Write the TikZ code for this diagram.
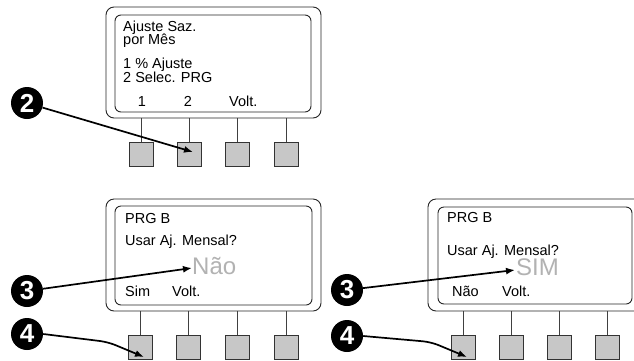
\documentclass[tikz,border=0pt]{standalone}
\usepackage{fontspec}
\setmainfont{Liberation Sans}
\usetikzlibrary{arrows.meta}

\tikzset{
  panel/.style={draw=black!85,line width=0.9pt,rounded corners=8pt,inner sep=0pt},
  screen/.style={draw=black!85,line width=0.9pt,rounded corners=6pt,inner sep=0pt},
  btn/.style={draw=black!80,fill=black!22,line width=0.9pt,minimum width=24pt,minimum height=24pt,inner sep=0pt},
  stem/.style={draw=black!75,line width=0.9pt},
  lcdtext/.style={inner sep=0pt,font=\fontsize{14.5}{14.5}\selectfont},
  bigtext/.style={inner sep=0pt,text=black!30,font=\fontsize{24}{24}\selectfont},
  badge/.style={circle,fill=black,text=white,minimum size=32pt,inner sep=0pt,font=\fontsize{26}{26}\bfseries},
  pointer/.style={line width=1.7pt,-{Latex[length=9pt,width=7pt]}}
}

\begin{document}
\begin{tikzpicture}[x=1pt,y=-1pt]
\clip (0,0) rectangle (634,360);
\fill[white] (0,0) rectangle (634,360);

\node[panel,minimum width=215pt,minimum height=111pt] (p1) at (213.5,62.5) {};
\node[screen,minimum width=196pt,minimum height=97pt] (s1) at (213,63.5) {};
\node[lcdtext,anchor=base west] (t1a) at (123,31) {Ajuste Saz.};
\node[lcdtext,anchor=base west] (t1b) at (123,44.5) {por Mês};
\node[lcdtext,anchor=base west] (t1c) at (123,68) {1 \% Ajuste};
\node[lcdtext,anchor=base west] (t1d) at (123,82) {2 Selec. PRG};
\node[lcdtext,anchor=base] (k1a) at (142,106) {1};
\node[lcdtext,anchor=base] (k1b) at (188,106) {2};
\node[lcdtext,anchor=base west] (k1c) at (229,106) {Volt.};
\node[btn] (b1a) at (141,154) {};
\node[btn] (b1b) at (189,154) {};
\node[btn] (b1c) at (237,154) {};
\node[btn] (b1d) at (286,154) {};
\foreach \b in {b1a,b1b,b1c,b1d}
  \draw[stem] (\b.north) -- (\b.north |- p1.south);

\node[panel,minimum width=215pt,minimum height=112pt] (p2) at (213.5,255) {};
\node[screen,minimum width=197pt,minimum height=99pt] (s2) at (213.5,255.5) {};
\node[lcdtext,anchor=base west] (t2a) at (125,223) {PRG B};
\node[lcdtext,anchor=base west] (t2b) at (125,245) {Usar Aj. Mensal?};
\node[bigtext,anchor=base west] (t2c) at (192,274) {Não};
\node[lcdtext,anchor=base west] (k2a) at (125,296) {Sim};
\node[lcdtext,anchor=base west] (k2b) at (172,296) {Volt.};
\node[btn] (b2a) at (140,347) {};
\node[btn] (b2b) at (188,347) {};
\node[btn] (b2c) at (237,347) {};
\node[btn] (b2d) at (286,347) {};
\foreach \b in {b2a,b2b,b2c,b2d}
  \draw[stem] (\b.north) -- (\b.north |- p2.south);

\node[panel,minimum width=232pt,minimum height=112pt] (p3) at (544,255) {};
\node[screen,minimum width=194pt,minimum height=97pt] (s3) at (535,255.5) {};
\node[lcdtext,anchor=base west] (t3a) at (447,222) {PRG B};
\node[lcdtext,anchor=base west] (t3b) at (447,255) {Usar Aj. Mensal?};
\node[bigtext,anchor=base west] (t3c) at (516,275) {SIM};
\node[lcdtext,anchor=base west] (k3a) at (452,296) {Não};
\node[lcdtext,anchor=base west] (k3b) at (502,296) {Volt.};
\node[btn] (b3a) at (463,347) {};
\node[btn] (b3b) at (511,347) {};
\node[btn] (b3c) at (559,347) {};
\node[btn] (b3d) at (607,347) {};
\foreach \b in {b3a,b3b,b3c,b3d}
  \draw[stem] (\b.north) -- (\b.north |- p3.south);

\node[badge] (n2) at (27,103) {2};
\node[badge] (n3a) at (27,291) {3};
\node[badge] (n4a) at (27,334) {4};
\node[badge] (n3b) at (347,290) {3};
\node[badge] (n4b) at (347,336) {4};

\coordinate (e2) at (193,152);
\coordinate (e3a) at (192,268);
\coordinate (m4a) at (108,342);
\coordinate (e4a) at (144,357);
\coordinate (e3b) at (515,270);
\coordinate (m4b) at (431,342);
\coordinate (e4b) at (467,357);

\draw[pointer] (n2) -- (e2);
\draw[pointer] (n3a) -- (e3a);
\draw[pointer,rounded corners=8pt] (n4a.east) -- (m4a) -- (e4a);
\draw[pointer] (n3b) -- (e3b);
\draw[pointer,rounded corners=8pt] (n4b.east) -- (m4b) -- (e4b);
\end{tikzpicture}
\end{document}
